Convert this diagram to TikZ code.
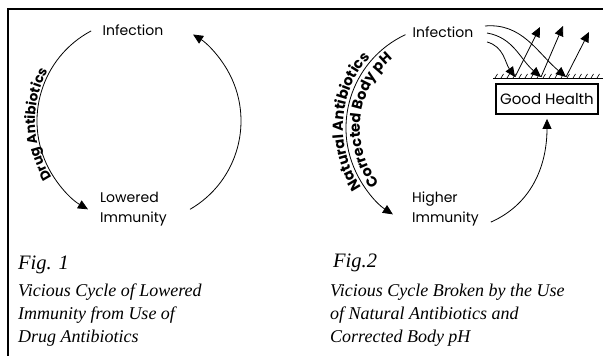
\documentclass[tikz,border=0pt]{standalone}
\usepackage{fontspec}
\newfontfamily\labfont{Poppins}
\newfontfamily\capfont{Liberation Serif}
\usetikzlibrary{arrows.meta,decorations.text,calc}
\tikzset{
  lab/.style={font=\labfont\fontsize{14}{20}\selectfont, inner sep=0pt, align=left},
  cyc/.style={line width=0.8pt},
  tipa/.style={-{Triangle[length=10pt,width=9pt]}},
  captext/.style={font=\capfont\itshape\fontsize{18}{23}\selectfont, inner sep=0pt, align=left},
  figlabel/.style={font=\capfont\itshape\fontsize{20.5}{24}\selectfont, inner sep=0pt},
  boxed/.style={draw, line width=1.8pt, minimum width=102pt, minimum height=30pt, inner sep=0pt,
    font=\labfont\fontsize{15}{18}\selectfont},
}
\begin{document}
\begin{tikzpicture}[x=1pt,y=1pt]
\useasboundingbox (0,0) rectangle (603,356);
% frame
\draw[line width=2pt] (8,0) -- (8,347) -- (603,347);

% ---------- Fig 1 ----------
\coordinate (c1) at (139,235);
\node[lab] (inf1) at (133,326) {Infection};
\node[lab, anchor=west] (low1) at (100,147) {Lowered\\Immunity};
\coordinate (p1) at ($(c1)+(118:102)$);
\coordinate (q1) at ($(c1)+(300:102)$);
\draw[cyc,tipa] (p1) arc[start angle=118,end angle=240,radius=102];
\draw[cyc,tipa] (q1) arc[start angle=300,end angle=418,radius=102];
\path[decorate,decoration={text along path,text align=center,
  text={|\labfont\bfseries\fontsize{13.5}{13.5}\selectfont|Drug Antibiotics}}]
  ($(c1)+(252:104)$) arc[start angle=252,end angle=112,radius=104];

\node[figlabel, anchor=base west] (fig1) at (18,86) {Fig. 1};
\node[captext, anchor=north west] (cap1) at (18,72.5) {Vicious Cycle of Lowered\\Immunity from Use of\\Drug Antibiotics};

% ---------- Fig 2 ----------
\coordinate (c2) at (449,228);
\node[lab] (inf2) at (443,324) {Infection};
\node[lab, anchor=west] (high2) at (412,147) {Higher\\Immunity};
\coordinate (p2) at ($(c2)+(115:103)$);
\draw[cyc,tipa] (p2) arc[start angle=115,end angle=237,radius=103];
\path[decorate,decoration={text along path,text align=center,
  text={|\labfont\bfseries\fontsize{14.5}{14.5}\selectfont|Natural Antibiotics}}]
  ($(c2)+(250:106)$) arc[start angle=250,end angle=102,radius=106];
\path[decorate,decoration={text along path,text align=center,
  text={|\labfont\bfseries\fontsize{14.5}{14.5}\selectfont|Corrected Body pH}}]
  ($(c2)+(252:89)$) arc[start angle=252,end angle=96,radius=89];

\node[boxed] (gh) at (547,257) {Good Health};
\coordinate (q2) at ($(c2)+(294:103)$);
\draw[cyc,tipa,shorten >=4pt] (q2) to[out=24,in=-90] (gh.south);

% hatched surface
\coordinate (h0) at (493,278);
\coordinate (h1) at (603,278);
\draw[line width=0.8pt] (h0) -- (h1);
\foreach \x in {495,501,...,601} \draw[line width=0.6pt] (\x,278) -- ++(2.5,4);

% deflected arrows
\coordinate (s1) at (487,314); \coordinate (t1) at (515,279);
\coordinate (s2) at (487,323); \coordinate (t2) at (541,279);
\coordinate (s3) at (485,330); \coordinate (t3) at (566,279);
\coordinate (u1) at (540,329);
\coordinate (u2) at (563,330);
\coordinate (u3) at (589,324);
\draw[cyc,tipa] (s1) to[out=-15,in=125] (t1);
\draw[cyc,tipa] (s2) to[out=-10,in=140] (t2);
\draw[cyc,tipa] (s3) to[out=5,in=140] (t3);
\draw[cyc,tipa] (t1) -- (u1);
\draw[cyc,tipa] (t2) -- (u2);
\draw[cyc,tipa] (t3) -- (u3);

\node[figlabel, anchor=base west] (fig2) at (333,88) {Fig.2};
\node[captext, anchor=north west] (cap2) at (330,72.5) {Vicious Cycle Broken by the Use\\of Natural Antibiotics and\\Corrected Body pH};
\end{tikzpicture}
\end{document}
